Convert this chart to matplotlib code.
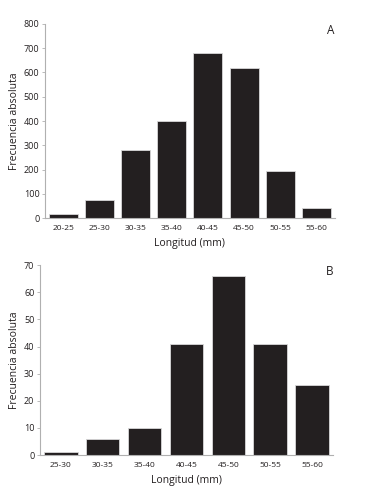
import matplotlib.pyplot as plt

# Datos panel A
clases_a = ["20-25", "25-30", "30-35", "35-40", "40-45", "45-50", "50-55", "55-60"]
frec_a = [15, 73, 280, 400, 680, 620, 195, 42]

# Datos panel B
clases_b = ["25-30", "30-35", "35-40", "40-45", "45-50", "50-55", "55-60"]
frec_b = [1, 6, 10, 41, 66, 41, 26]

plt.rcParams["font.family"] = ["Open Sans", "DejaVu Sans"]

fig = plt.figure(figsize=(3.7, 4.88), dpi=100)
ax1 = fig.add_axes([0.1216, 0.553, 0.783, 0.398])
ax2 = fig.add_axes([0.108, 0.0676, 0.792, 0.389])

barra = "#231f20"
eje = "#b0b0b0"


def dibujar(ax, clases, frec, ymax, paso, letra):
    x = range(len(clases))
    ax.bar(x, frec, width=0.8, color=barra, edgecolor="#d8d8d8", linewidth=0.6)
    ax.set_xlim(-0.5, len(clases) - 0.5)
    ax.set_ylim(0, ymax)
    ax.set_yticks(range(0, ymax + 1, paso))
    ax.set_xticks(list(x))
    ax.set_xticklabels(clases)
    for s in ["top", "right"]:
        ax.spines[s].set_visible(False)
    for s in ["left", "bottom"]:
        ax.spines[s].set_color(eje)
        ax.spines[s].set_linewidth(0.8)
    ax.tick_params(axis="x", length=0, labelsize=6, pad=5, colors="#231f20")
    ax.tick_params(axis="y", length=2, width=0.6, color=eje, labelsize=6.5, pad=2,
                   labelcolor="#231f20")
    ax.set_xlabel("Longitud (mm)", fontsize=7.5, labelpad=4, color="#231f20")
    ax.set_ylabel("Frecuencia absoluta", fontsize=7.5, labelpad=3, color="#231f20")
    ax.text(1.0, 1.0, letra, transform=ax.transAxes, ha="right", va="top",
            fontsize=8.5, color="#231f20")


dibujar(ax1, clases_a, frec_a, 800, 100, "A")
dibujar(ax2, clases_b, frec_b, 70, 10, "B")

fig.savefig("out.png", dpi=100)
